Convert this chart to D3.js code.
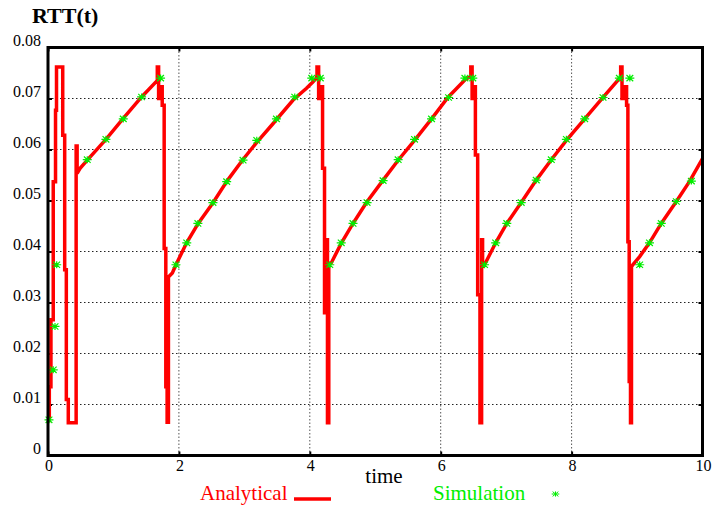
<!DOCTYPE html>
<html>
<head>
<meta charset="utf-8">
<script src="https://cdn.jsdelivr.net/npm/d3@7/dist/d3.min.js"></script>
<style>
  html, body { margin: 0; padding: 0; background: #fff; }
  svg { display: block; }
</style>
</head>
<body>
<svg id="chart" width="712" height="509"></svg>
<script>
// ---- data ----
const xTicks = [0, 2, 4, 6, 8, 10];
const xTickLabels = ["0", "2", "4", "6", "8", "10"];
const yTicks = [0, 0.01, 0.02, 0.03, 0.04, 0.05, 0.06, 0.07, 0.08];
const yTickLabels = ["0", "0.01", "0.02", "0.03", "0.04", "0.05", "0.06", "0.07", "0.08"];

const analyticalT = [
  0.02, 0.02, 0.045, 0.045, 0.08, 0.08, 0.115, 0.115, 0.13, 0.13, 0.225, 0.225, 0.255, 0.255, 0.28, 0.28, 0.31, 0.31, 0.43, 0.43, 0.445, 0.445,
  0.49, 0.6, 0.885, 1.15, 1.43, 1.66, 1.67, 1.67, 1.69, 1.69, 1.72, 1.72, 1.745, 1.745, 1.775, 1.775, 1.8, 1.8, 1.82, 1.82, 1.84, 1.84,
  1.9, 1.955, 2.118, 2.295, 2.524, 2.74, 2.97, 3.19, 3.44, 3.745, 3.95, 4.05, 4.1, 4.11, 4.11, 4.135, 4.135, 4.17, 4.17, 4.195, 4.195, 4.225, 4.225, 4.25, 4.25, 4.27, 4.27, 4.29, 4.29,
  4.33, 4.48, 4.66, 4.866, 5.12, 5.35, 5.6, 5.86, 6.11, 6.39, 6.45, 6.46, 6.46, 6.48, 6.48, 6.51, 6.51, 6.53, 6.53, 6.565, 6.565, 6.6, 6.6, 6.625, 6.625, 6.64, 6.64,
  6.67, 6.84, 7.01, 7.23, 7.46, 7.69, 7.92, 8.2, 8.48, 8.73, 8.75, 8.75, 8.77, 8.77, 8.81, 8.81, 8.84, 8.84, 8.86, 8.86, 8.88, 8.88, 8.9, 8.9, 8.915, 8.915,
  8.935, 9.04, 9.19, 9.37, 9.6, 9.8, 10
];
const analyticalRTT = [
  0.0065, 0.0135, 0.0135, 0.0266, 0.0266, 0.0537, 0.0537, 0.0677, 0.0677, 0.0762, 0.0762, 0.0628, 0.0628, 0.0364, 0.0364, 0.011, 0.011, 0.0064, 0.0064, 0.0607, 0.0607, 0.0553,
  0.0563, 0.0579, 0.062, 0.0661, 0.0703, 0.0734, 0.0736, 0.0762, 0.0762, 0.07, 0.07, 0.0723, 0.0723, 0.0687, 0.0687, 0.0406, 0.0406, 0.0135, 0.0135, 0.0065, 0.0065, 0.035,
  0.0358, 0.0374, 0.0417, 0.0455, 0.0496, 0.0539, 0.0579, 0.0614, 0.0651, 0.0697, 0.072, 0.0733, 0.074, 0.0745, 0.0762, 0.0762, 0.07, 0.07, 0.0723, 0.0723, 0.0563, 0.0563, 0.028, 0.028, 0.0423, 0.0423, 0.0064, 0.0064, 0.0374,
  0.0378, 0.0416, 0.0455, 0.0496, 0.054, 0.0579, 0.0618, 0.066, 0.0702, 0.0739, 0.0742, 0.0742, 0.0762, 0.0762, 0.07, 0.07, 0.0723, 0.0723, 0.0589, 0.0589, 0.0315, 0.0315, 0.0064, 0.0064, 0.0423, 0.0423, 0.037,
  0.0374, 0.0417, 0.0455, 0.0496, 0.054, 0.058, 0.0618, 0.066, 0.0702, 0.0739, 0.0741, 0.0762, 0.0762, 0.07, 0.07, 0.0723, 0.0723, 0.0687, 0.0687, 0.0419, 0.0419, 0.0145, 0.0145, 0.0064, 0.0064, 0.037,
  0.0374, 0.039, 0.0417, 0.0455, 0.0498, 0.0537, 0.0582
];

const simulationT = [
  0.015, 0.08, 0.107, 0.133, 0.6, 0.885, 1.15, 1.43, 1.72,
  1.955, 2.12, 2.29, 2.52, 2.73, 2.98, 3.19, 3.49, 3.77, 4.03, 4.16,
  4.305, 4.48, 4.66, 4.875, 5.12, 5.35, 5.6, 5.86, 6.12, 6.37, 6.49,
  6.67, 6.84, 7.01, 7.23, 7.46, 7.69, 7.92, 8.2, 8.48, 8.73, 8.89,
  9.04, 9.19, 9.37, 9.6, 9.83
];
const simulationRTT = [
  0.007, 0.0168, 0.0253, 0.0374, 0.058, 0.062, 0.066, 0.0703, 0.074,
  0.0374, 0.0417, 0.0455, 0.0496, 0.0537, 0.0579, 0.0618, 0.066, 0.0703, 0.074, 0.074,
  0.0374, 0.0417, 0.0455, 0.0496, 0.0539, 0.058, 0.062, 0.066, 0.0702, 0.074, 0.074,
  0.0374, 0.0417, 0.0455, 0.0496, 0.054, 0.058, 0.062, 0.066, 0.0702, 0.074, 0.074,
  0.0374, 0.0417, 0.0455, 0.0498, 0.0538
];

// ---- layout ----
const FONT = "Liberation Serif";
const svg = d3.select("#chart");
const x = d3.scaleLinear().domain([0, 10]).range([48, 702.5]);
const y = d3.scaleLinear().domain([0, 0.08]).range([455.5, 47.5]);
const RED = "#ff0000", GREEN = "#00ee00";

// grid
const grid = svg.append("g");
grid.selectAll("line.h").data(yTicks.filter(v => v > 0 && v < 0.08)).join("line")
  .attr("x1", x(0)).attr("x2", x(10)).attr("y1", d => y(d)).attr("y2", d => y(d))
  .attr("stroke", "#222").attr("stroke-width", 1).attr("stroke-dasharray", "1.5,2.5");
grid.selectAll("line.v").data(xTicks.filter(v => v > 0 && v < 10)).join("line")
  .attr("x1", d => x(d)).attr("x2", d => x(d)).attr("y1", y(0)).attr("y2", y(0.08))
  .attr("stroke", "#555").attr("stroke-width", 1).attr("stroke-dasharray", "1.5,2");

// axes with inward ticks
const axisG = svg.append("g");
const yAxisL = d3.axisRight(y).tickValues(yTicks).tickSize(4).tickFormat("");
const yAxisR = d3.axisLeft(y).tickValues(yTicks).tickSize(4).tickFormat("");
const xAxisB = d3.axisTop(x).tickValues(xTicks).tickSize(4).tickFormat("");
const xAxisT = d3.axisBottom(x).tickValues(xTicks).tickSize(4).tickFormat("");
[[yAxisL, `translate(${x(0)},0)`], [yAxisR, `translate(${x(10)},0)`],
 [xAxisB, `translate(0,${y(0)})`], [xAxisT, `translate(0,${y(0.08)})`]].forEach(([ax, tr]) => {
  const g = axisG.append("g").attr("transform", tr).call(ax);
  g.select(".domain").remove();
  g.selectAll(".tick line").attr("stroke", "#000").attr("stroke-width", 2);
});

// tick labels
svg.append("g").selectAll("text").data(yTicks).join("text")
  .attr("x", 41).attr("y", d => y(d) - 1.5).attr("text-anchor", "end")
  .attr("font-family", FONT).attr("font-size", 16).attr("fill", "#000")
  .text((d, i) => yTickLabels[i]);
svg.append("g").selectAll("text").data(xTicks).join("text")
  .attr("x", d => x(d) + 1).attr("y", 471).attr("text-anchor", "middle")
  .attr("font-family", FONT).attr("font-size", 16).attr("fill", "#000")
  .text((d, i) => xTickLabels[i]);

// analytical line
const pts = analyticalT.map((t, i) => [t, analyticalRTT[i]]);
svg.append("path").datum(pts)
  .attr("d", d3.line().x(d => x(d[0])).y(d => y(d[1])))
  .attr("fill", "none").attr("stroke", RED).attr("stroke-width", 3.5)
  .attr("stroke-linejoin", "miter").attr("stroke-miterlimit", 2);

// simulation markers
function star(cx, cy, hx, hy) {
  const dx = hx * 0.75, dy = hy * 0.9;
  return `M${cx - hx},${cy}L${cx + hx},${cy}M${cx},${cy - hy}L${cx},${cy + hy}` +
         `M${cx - dx},${cy - dy}L${cx + dx},${cy + dy}M${cx - dx},${cy + dy}L${cx + dx},${cy - dy}`;
}
svg.append("g").selectAll("path").data(simulationT.map((t, i) => [t, simulationRTT[i]])).join("path")
  .attr("d", d => star(x(d[0]), y(d[1]), 4.5, 3.5))
  .attr("stroke", GREEN).attr("stroke-width", 1.2).attr("fill", "none");

// frame
svg.append("rect").attr("x", x(0)).attr("y", y(0.08))
  .attr("width", x(10) - x(0)).attr("height", y(0) - y(0.08))
  .attr("fill", "none").attr("stroke", "#000").attr("stroke-width", 3);

// title and labels
svg.append("text").attr("x", 32).attr("y", 23).attr("font-family", FONT)
  .attr("font-size", 22).attr("font-weight", "bold").attr("fill", "#000").text("RTT(t)");
svg.append("text").attr("x", 384).attr("y", 483).attr("text-anchor", "middle")
  .attr("font-family", FONT).attr("font-size", 21).attr("fill", "#000").text("time");

// legend
svg.append("text").attr("x", 200).attr("y", 500).attr("font-family", FONT)
  .attr("font-size", 21).attr("fill", RED).text("Analytical");
svg.append("line").attr("x1", 294).attr("x2", 331).attr("y1", 499).attr("y2", 499)
  .attr("stroke", RED).attr("stroke-width", 3.5);
svg.append("text").attr("x", 433).attr("y", 500).attr("font-family", FONT)
  .attr("font-size", 21).attr("fill", GREEN).text("Simulation");
svg.append("path").attr("d", star(555.5, 494, 3.8, 2.6))
  .attr("stroke", GREEN).attr("stroke-width", 1).attr("fill", "none");
</script>
</body>
</html>
